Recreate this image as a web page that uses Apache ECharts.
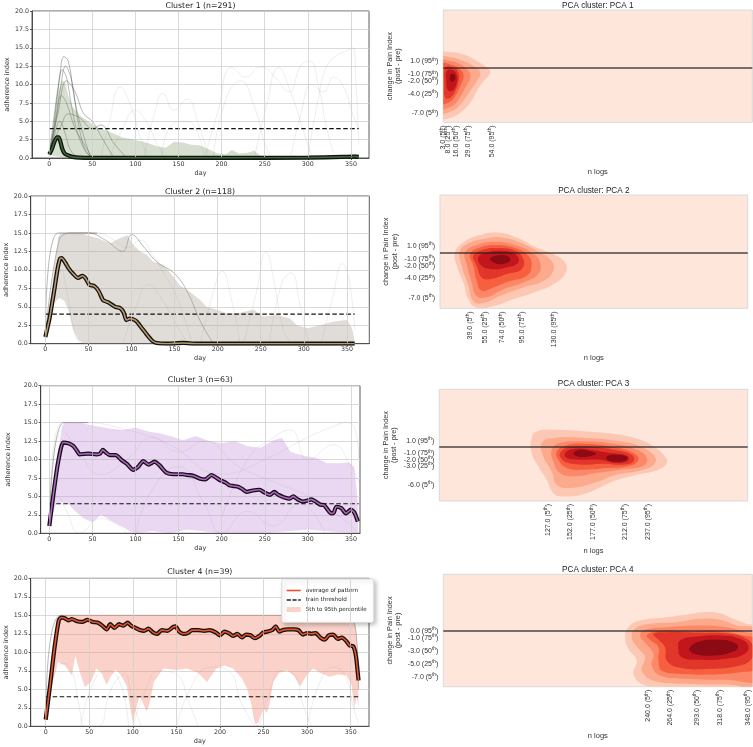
<!DOCTYPE html>
<html><head><meta charset="utf-8">
<script src="https://cdn.jsdelivr.net/npm/echarts@6/dist/echarts.min.js"></script>
<style>html,body{margin:0;padding:0;background:#fff}#c{width:753px;height:747px}</style>
</head><body><div id="c"></div>
<script>
// ---------------- DATA ----------------
const dayTicks = [0, 50, 100, 150, 200, 250, 300, 350];
const threshold = [[0, 4], [359, 4]];

const c1Mean = [[0,0.5],[3,1.2],[6,2.2],[9,2.8],[11,2.8],[13,2.2],[15,1.3],[18,0.6],[22,0.35],[27,0.15],[35,0.05],[50,0.02],[100,0.02],[200,0.02],[300,0.05],[340,0.15],[355,0.2],[359,0.15]];
const c1Upper = [[0,0.6],[5,5],[10,9],[15,10.5],[18,10.4],[22,8.5],[27,7],[35,5.8],[45,5],[55,4.2],[65,3.8],[75,3.3],[85,2.8],[95,2.6],[105,2.3],[115,2],[125,1.6],[135,1.4],[145,2.2],[155,2.1],[165,1.8],[175,1.7],[185,1.2],[195,0.6],[205,0.5],[212,1.1],[220,0.6],[230,0.7],[238,1.0],[245,0.3],[255,0.1],[300,0.05],[340,0.2],[350,0.6],[357,0.5],[359,0.1]];
const c1Lower = [[0,0.4],[20,0],[359,0]];
const c1Bundle = [
  [[0,0.5],[6,6],[12,11],[17,13.8],[22,13.2],[28,9],[35,4],[42,1],[50,0]],
  [[0,0.5],[5,4],[10,9],[15,12],[20,11],[26,7],[34,3],[45,0.5],[55,0]],
  [[0,0.5],[5,3],[9,6],[14,8.5],[20,7.5],[30,4],[40,2],[50,0]],
  [[0,0.5],[4,2],[8,4],[12,5],[18,3.5],[25,1],[35,0]],
  [[0,0.5],[10,6],[20,10.5],[30,9],[40,6],[50,5],[60,3],[75,0]],
  [[0,0.5],[8,3],[14,4.5],[22,6],[35,5.5],[50,4],[60,4.5],[75,2],[90,0]],
  [[0,0.5],[7,5],[13,9.5],[19,12.5],[25,11],[32,6.5],[40,3],[48,0]]
];
const c1Lines = [
  [[60,0],[70,5],[82,9.6],[95,7],[105,3],[115,0]],
  [[110,0],[122,6],[132,8.8],[145,6.5],[160,8],[172,5],[185,0]],
  [[180,0],[195,6],[212,12.3],[228,11],[245,12.4],[262,11],[278,9],[292,12.6],[302,13.2],[312,10],[322,4],[332,0]],
  [[300,0],[312,8],[322,12.5],[334,14],[344,14.5],[352,15],[356,10],[359,2]],
  [[238,0],[252,7],[266,12.3],[280,9],[294,4],[305,0]],
  [[130,0],[142,4.5],[158,5],[170,4],[180,0]],
  [[280,0],[292,6],[305,10],[318,9],[330,11],[342,9.5],[352,6],[359,4]],
  [[70,0],[85,4],[100,6.5],[112,5],[125,2],[135,0]],
  [[190,0],[205,8],[222,10.5],[238,7],[250,2],[258,0]]
];

const c2Mean = [[0,0.9],[5,3.5],[10,7],[14,10],[17,11.5],[19,11.6],[23,11.0],[27,10.2],[32,9.5],[38,8.9],[43,9.2],[47,8.8],[51,8.0],[57,7.8],[62,7.1],[67,5.9],[73,5.6],[81,5.0],[87,4.8],[91,4.2],[94,3.2],[98,3.4],[102,3.3],[106,3.0],[112,2.1],[118,1.2],[124,0.4],[129,0.1],[141,0],[160,0.1],[175,0],[359,0]];
const c2Upper = [[0,0.9],[5,5],[10,10],[15,14.5],[18,15],[40,15],[48,14.7],[60,14.3],[75,13.6],[85,14.2],[95,14.7],[102,13.4],[110,12.5],[118,12],[125,11.1],[137,10.7],[147,9.3],[156,7.9],[168,7],[180,5.9],[187,5],[199,4.6],[211,4.1],[226,4.2],[242,4.6],[253,3.7],[269,3.9],[284,3.4],[292,2.5],[304,2.1],[319,2.5],[335,3.0],[350,3.2],[356,2.1],[359,0.3]];
const c2Lower = [[0,0.9],[5,3],[10,5.5],[16,6.2],[22,5.8],[27,4.5],[32,2],[38,0.5],[45,0],[359,0]];
const c2Bundle = [
  [[0,0.9],[15,15],[60,15]],
  [[0,0.9],[16,14],[30,15],[50,15],[70,14],[90,12.5],[100,14.8],[115,13],[130,11],[150,9.5],[165,7],[180,3],[195,0]]
];
const c2Lines = [
  [[0,0.9],[10,8],[18,10],[25,7],[35,1],[42,0]],
  [[230,0],[245,7],[256,12.4],[266,8],[276,2],[285,0]],
  [[320,0],[333,6],[345,10.8],[352,9],[359,2]],
  [[180,0],[195,7],[205,9.8],[216,6],[226,0]],
  [[260,0],[274,8],[285,9.6],[296,5],[306,0]],
  [[20,15],[40,14.8],[60,15],[80,14],[95,13],[110,14],[125,12],[140,9],[150,7],[160,4],[170,0]],
  [[90,0],[105,5],[120,8],[135,6],[150,3],[165,0]]
];

const c3Mean = [[0,1],[5,5.5],[10,9.5],[16,12.3],[22,12.2],[28,11.8],[32,11.2],[35,10.7],[45,10.8],[55,10.7],[59,10.8],[62,11.3],[66,10.9],[70,10.6],[77,10.6],[84,9.9],[90,9.4],[97,8.6],[103,9.0],[109,9.8],[115,9.3],[122,9.7],[128,9.2],[136,8.2],[144,8.0],[155,8.0],[160,7.9],[167,7.8],[175,7.4],[181,7.3],[188,7.9],[193,7.6],[198,7.2],[204,6.9],[209,6.5],[214,6.4],[219,6.3],[224,6.0],[229,5.6],[236,5.8],[244,5.9],[250,5.5],[256,5.2],[261,5.6],[266,5.2],[272,4.9],[279,4.7],[283,5.0],[288,4.6],[294,4.3],[299,4.4],[304,4.6],[309,4.3],[314,3.9],[319,3.8],[323,3.2],[327,2.7],[330,2.8],[333,3.6],[339,3.4],[344,2.7],[350,3.2],[354,2.8],[358,1.6]];
const c3Upper = [[0,1],[5,6],[10,11],[15,14.5],[18,15],[35,15],[42,14.8],[55,14.5],[70,14.2],[85,14.0],[100,14.3],[115,13.8],[130,13.5],[145,13.0],[155,12.6],[170,13.2],[185,12.5],[200,12.2],[215,12.5],[230,11.8],[245,11.6],[260,12.6],[270,12.9],[280,11.0],[295,10.5],[310,10.2],[322,9.5],[335,9.5],[348,9.6],[354,9.0],[358,4.0]];
const c3Lower = [[0,1],[8,4],[15,4.2],[22,4],[30,3],[40,2],[50,1.5],[60,2.5],[75,1.5],[90,0.5],[100,0],[120,0.3],[140,0],[160,0.5],[200,0],[250,0],[300,0.5],[330,0.2],[358,0]];
const c3Bundle = [
  [[0,1],[17,15],[45,15]]
];
const c3Lines = [
  [[0,1],[15,15],[40,15],[90,14],[140,12],[200,8],[250,10],[300,13],[330,14.5],[345,15],[355,14],[359,10]],
  [[0,1],[10,5],[20,3],[35,0],[60,2],[90,0]],
  [[100,0],[120,6],[150,9],[180,4],[200,0],[230,3],[260,1],[290,4],[320,0]],
  [[0,1],[15,14],[30,12],[60,8],[90,10],[120,13],[150,11],[180,12.5],[220,9],[260,7],[300,5],[340,2],[359,0]],
  [[200,2],[230,10],[260,13],[280,14],[300,10],[330,12],[350,9],[359,7]]
];

const c4Mean = [[0,0.9],[5,5.5],[10,10.5],[15,14.3],[18,14.7],[22,14.6],[26,14.3],[30,14.5],[36,14.2],[42,14.1],[48,14.4],[54,14.1],[60,14.0],[65,13.6],[70,13.1],[74,13.8],[79,13.3],[84,13.8],[89,13.6],[94,14.0],[98,13.6],[103,13.3],[108,13.0],[113,12.9],[118,13.2],[123,12.7],[128,12.5],[133,13.0],[140,12.9],[146,13.4],[149,13.5],[153,12.8],[158,12.5],[163,12.6],[168,13.0],[175,13.0],[182,12.9],[188,13.0],[195,12.7],[200,12.3],[205,12.8],[210,12.6],[215,12.2],[220,12.5],[225,12.0],[230,12.4],[235,12.3],[240,11.9],[245,12.2],[250,12.7],[255,12.8],[260,13.0],[264,13.5],[268,12.8],[272,13.0],[278,13.1],[285,13.1],[290,13.0],[295,12.4],[300,12.6],[305,12.5],[310,12.6],[315,12.0],[320,11.7],[325,12.3],[330,12.4],[335,11.8],[340,12.0],[345,11.5],[349,10.9],[353,10.8],[356,9.5],[359,6.2]];
const c4Upper = [[0,1],[5,6],[10,11],[15,14.6],[18,15],[350,15],[354,14.5],[357,12],[359,3]];
const c4Lower = [[0,1],[6,5],[14,8.7],[22,8.2],[30,6.9],[34,9.5],[40,7],[45,5.3],[52,6],[58,7.8],[64,7.2],[70,5.6],[75,6.8],[80,7.6],[86,7],[93,5.4],[97,2.5],[100,0.5],[104,2.5],[108,4.2],[112,3],[116,2],[120,3.5],[124,6],[135,7.8],[150,7.6],[162,7.8],[175,7.2],[185,6],[196,7.8],[205,8.2],[215,7.8],[225,6.5],[231,5.1],[236,3],[240,0.3],[244,0.5],[247,1.5],[250,2.4],[254,1.8],[257,3],[261,6],[268,7.2],[277,7.6],[285,6.8],[292,5.4],[300,7],[307,7.8],[315,7.2],[326,6.7],[335,7],[345,6.9],[351,5.6],[354,2.4],[357,4],[359,2.5]];
const c4Bundle = [
  [[0,1],[17,15],[350,15],[359,5]]
];
const c4Lines = [
  [[0,1],[10,7],[20,8.5],[30,7.5],[38,3],[46,0],[60,0],[75,5],[90,7],[100,3],[110,0]],
  [[100,0],[115,5],[130,7.5],[150,7],[165,3],[175,0]],
  [[230,0],[240,0],[255,4],[270,7.5],[285,7],[295,3],[305,0]],
  [[300,0],[315,6],[330,8],[345,6.5],[352,3],[359,0.5]],
  [[150,0],[170,6],[190,8],[210,7.5],[225,3],[240,0]],
  [[40,0],[55,6],[70,7.5],[85,6],[95,0]]
];

// KDE contour levels (polygon vertices in data units: [n logs, change in pain index])
const kde1 = [
  {lv:0, pts:[[-3.7,2.05],[12,2.41],[26,1.95],[38.2,1.03],[48.7,0],[52.2,-0.77],[45.2,-2.05],[38.2,-3.59],[31.2,-5.39],[20.8,-6.93],[8.5,-7.8],[-3.7,-7.8]]},
  {lv:1, pts:[[-3.7,1.54],[10.3,1.64],[22.5,1.13],[34.7,0.26],[41.7,-0.77],[38.2,-2.05],[31.2,-3.59],[22.5,-5.39],[12,-6.67],[-3.7,-6.93]]},
  {lv:2, pts:[[-3.7,1.03],[10.3,1.03],[20.8,0.51],[29.5,-0.51],[31.2,-1.54],[26,-3.08],[19,-4.87],[10.3,-6.05],[-3.7,-6.16]]},
  {lv:3, pts:[[1.6,0.51],[12,0.41],[20.8,-0.26],[24.3,-1.28],[20.8,-2.82],[15.5,-4.36],[8.5,-5.39],[1.6,-5.39]]},
  {lv:4, pts:[[5.1,0],[13.8,0],[19,-0.77],[19,-2.05],[15.5,-3.59],[10.3,-4.62],[5.1,-4.62],[4,-2.56]]},
  {lv:5, pts:[[6.8,-0.51],[13.8,-0.41],[17.3,-1.28],[16.6,-2.56],[12,-3.59],[7.5,-3.33],[6.1,-2.05]]},
  {lv:6, pts:[[10.3,-1.13],[14.5,-1.03],[15.5,-1.64],[13.1,-2.15],[10.3,-1.95]]}
];
const kde2 = [
  {lv:0, pts:[[22.8,0],[31.8,1.57],[49.8,2.71],[69.6,3.12],[89.4,2.35],[111,0.8],[132.6,-0.5],[142.7,-1.8],[141.6,-3.3],[129,-4.9],[107.4,-6.2],[85.8,-7.2],[64.2,-8.3],[46.2,-8.5],[37.2,-7.2],[31.8,-4.6],[24.6,-2.0]]},
  {lv:1, pts:[[28.2,0.28],[39,1.57],[57,2.2],[73.2,2.35],[93,1.57],[114.6,0],[127.2,-1.3],[129,-2.8],[118.2,-4.4],[96.6,-5.4],[71.4,-6.7],[53.4,-7.8],[42.6,-7.5],[37.2,-5.1],[30,-2.04]]},
  {lv:2, pts:[[33.6,0],[46.2,1.16],[67.8,1.67],[87.6,1.16],[105.6,0],[114.6,-1.5],[112.8,-3.3],[96.6,-4.6],[75,-5.65],[57,-6.9],[46.2,-6.7],[40.8,-4.6],[35.4,-1.8]]},
  {lv:3, pts:[[39,-0.23],[49.8,0.8],[67.8,1.16],[87.6,0.7],[102,-0.5],[105.6,-2.04],[100.2,-3.6],[82.2,-4.4],[64.2,-5.4],[51.6,-5.9],[46.2,-4.4],[42.6,-2.04]]},
  {lv:4, pts:[[42.6,-0.5],[53.4,0.44],[69.6,0.7],[87.6,0.28],[96.6,-1.0],[94.8,-2.56],[78.6,-3.3],[60.6,-4.1],[51.6,-3.85],[46.2,-2.04]]},
  {lv:5, pts:[[48,-0.75],[57,0.02],[71.4,0.28],[87.6,-0.23],[91.2,-1.5],[78.6,-2.3],[62.4,-2.56],[51.6,-2.04]]},
  {lv:6, pts:[[60.6,-0.9],[69.6,-0.4],[80.4,-0.6],[82.2,-1.27],[73.2,-1.8],[64.2,-1.5]]}
];
const kde3 = [
  {lv:0, pts:[[109.3,1.42],[114.9,2.47],[133.2,2.74],[169.9,2.47],[206.6,1.95],[228.6,1.16],[243.3,0.11],[256,-1.47],[258,-2.52],[248.8,-3.57],[225,-4.36],[199.3,-5.4],[169.9,-7.26],[144.2,-7.78],[133.2,-7.26],[125.9,-5.15],[116.7,-3.05],[109.3,-0.95]]},
  {lv:1, pts:[[120.4,0.63],[133.2,1.42],[169.9,1.42],[206.6,0.9],[228.6,0.1],[243.3,-1.2],[245.1,-2.52],[232.3,-3.57],[202.9,-4.36],[177.2,-5.68],[151.6,-6.47],[136.9,-5.94],[131.4,-3.84],[122.2,-1.47]]},
  {lv:2, pts:[[131.4,-0.42],[140.5,0.63],[162.6,0.9],[199.3,0.53],[225,-0.42],[236,-1.73],[232.3,-2.94],[206.6,-3.57],[180.9,-4.1],[155.6,-4.6],[140.5,-4.1],[133.2,-2.26]]},
  {lv:3, pts:[[136.9,-0.68],[146,0.21],[166.2,0.53],[199.3,0],[221.3,-0.95],[226.8,-2.0],[217.6,-2.94],[191.9,-3.31],[166.2,-3.57],[147.9,-3.31],[138.7,-2.0]]},
  {lv:4, pts:[[140.5,-0.95],[149.7,-0.05],[168.1,0.11],[199.3,-0.42],[219.4,-1.21],[221.3,-2.26],[208.4,-2.78],[188.3,-2.63],[166.2,-2.78],[147.9,-2.42],[141.3,-1.73]]},
  {lv:5, pts:[[146,-0.95],[155.2,-0.31],[173.6,-0.42],[195.6,-0.95],[214,-1.37],[215.8,-2.1],[202.9,-2.52],[184.6,-2.0],[162.6,-2.0],[147.9,-1.73]]},
  {lv:6, pts:[[155.2,-0.95],[162.6,-0.42],[173.6,-0.68],[180.2,-1.05],[171.7,-1.47],[159.6,-1.47]]},
  {lv:6, pts:[[191.9,-1.47],[202.9,-1.21],[214.7,-1.58],[212.1,-2.1],[201.1,-2.31],[192.7,-2.0]]}
];
const kde4 = [
  {lv:0, pts:[[214.7,-0.92],[218.3,0.61],[231,1.63],[259.9,2.14],[281.6,2.55],[299.7,2.91],[317.8,2.75],[332.3,1.88],[346.8,1.12],[357.6,0.61],[360,-8.6],[325,-8.7],[259.9,-8.7],[234.6,-8.2],[223.7,-6.5],[227.3,-4.5],[218.3,-2.7]]},
  {lv:1, pts:[[221.9,-0.92],[225.5,0.35],[241.8,1.12],[270.8,1.38],[296.1,1.88],[317.8,1.73],[335.9,0.87],[357.6,0.1],[360,-8.06],[325,-8.16],[278,-8.06],[245.4,-7.55],[232.8,-6.02],[236.4,-3.98],[228,-2.45]]},
  {lv:2, pts:[[231,-0.66],[236.4,0.2],[259.9,0.61],[296.1,0.87],[325,0.61],[346.8,-0.16],[360,-0.66],[360,-7.3],[325,-7.45],[281.6,-7.3],[252.7,-6.79],[243.6,-5.26],[245.4,-3.47],[237.5,-1.94]]},
  {lv:3, pts:[[238.2,-0.66],[249,0],[281.6,0],[317.8,0],[343.2,-0.66],[358,-1.43],[358,-5.51],[339.5,-6.28],[306.9,-6.63],[274.4,-6.53],[254.5,-6.02],[250.9,-4.49],[250.9,-2.45],[241.8,-1.33]]},
  {lv:4, pts:[[245.4,-0.41],[259.9,-0.16],[296.1,-0.26],[328.7,-0.41],[346.8,-1.17],[354,-2.45],[352.2,-4.23],[339.5,-5.26],[306.9,-5.77],[274.4,-5.61],[259.9,-4.49],[258.1,-2.45],[249.8,-1.17]]},
  {lv:5, pts:[[274.4,-1.43],[292.5,-0.82],[321.4,-0.66],[339.5,-1.17],[348.6,-2.19],[345,-3.47],[325,-4.23],[296.1,-4.39],[276.2,-3.98],[272.6,-2.7]]},
  {lv:6, pts:[[285.2,-2.45],[296.1,-1.53],[314.2,-1.33],[332.3,-1.68],[337.7,-2.45],[330.5,-3.21],[310.6,-3.72],[292.5,-3.57],[285.2,-3.06]]}
];

// percentile tick values (value list and matching percentile)
const kdeXTicks = [[3,8,16,29,54],[39,55,74,95,130],[127,152,177,212,237],[240,264,293,318,348]];
const kdeYTicks = [[1,-1,-2,-4,-7],[1,-1,-2,-4,-7],[1,-1,-2,-3,-6],[0,-1,-3,-5,-7]];
const pctNames = [5,25,50,75,95];
const pctNamesY = [95,75,50,25,5];

const leftTitles = ['Cluster 1 (n=291)','Cluster 2 (n=118)','Cluster 3 (n=63)','Cluster 4 (n=39)'];
const rightTitles = ['PCA cluster: PCA 1','PCA cluster: PCA 2','PCA cluster: PCA 3','PCA cluster: PCA 4'];
const legendNames = ['average of pattern','train threshold','5th to 95th percentile'];

// ---------------- LAYOUT / STYLE ----------------
const LF = 'DejaVu Sans', RF = 'Liberation Sans';
const leftBox = [
  {left:32, top:11, width:337, height:147, xmin:-20, xmax:371, nameGap:20, titleTop:1.5},
  {left:30.7, top:196, width:338.6, height:147.7, xmin:-17, xmax:376, nameGap:19, titleTop:187.5},
  {left:40.7, top:385.7, width:319.3, height:147.6, xmin:-10, xmax:360.5, nameGap:28.5, titleTop:376},
  {left:30.7, top:578.3, width:338.3, height:148, xmin:-17.2, xmax:371, nameGap:19, titleTop:568.3}
];
const rightBox = [
  {left:443.3, top:10, width:309, height:112.3, xmin:3, xmax:326.5, ymin:-8.4, ymax:8.9, titleTop:1.5},
  {left:440, top:195, width:307.7, height:113.3, xmin:6.6, xmax:338.9, ymin:-8.6, ymax:8.9, titleTop:186.7},
  {left:439.3, top:389.3, width:308.4, height:111.7, xmin:7.7, xmax:347, ymin:-8.5, ymax:9.1, titleTop:380},
  {left:443.3, top:574.3, width:309, height:112.4, xmin:17, xmax:353, ymin:-8.5, ymax:8.7, titleTop:565.7}
];
// label drawing order: chosen so neighbouring labels at list ends never collide (ECharts hides those)
const labelOrder = [2, 0, 3, 1, 4];
const leftData = [
  {mean:c1Mean, upper:c1Upper, lower:c1Lower, bundle:c1Bundle, lines:c1Lines, band:'rgba(115,145,95,0.30)', inner:'#3b6a32'},
  {mean:c2Mean, upper:c2Upper, lower:c2Lower, bundle:c2Bundle, lines:c2Lines, band:'rgba(165,155,140,0.35)', inner:'#b99a6c'},
  {mean:c3Mean, upper:c3Upper, lower:c3Lower, bundle:c3Bundle, lines:c3Lines, band:'rgba(200,150,222,0.38)', inner:'#b462c6'},
  {mean:c4Mean, upper:c4Upper, lower:c4Lower, bundle:c4Bundle, lines:c4Lines, band:'rgba(240,130,105,0.36)', inner:'#e8532d'}
];
const kdes = [kde1, kde2, kde3, kde4];
const kdeBg = '#fee6da';
const kdeColors = ['#fdc8b3','#fca98c','#fb8969','#f6603f','#e2362a','#c2161c','#8c0a13'];
const gridLineStyle = {color:'#cfcfcf', width:0.8, type:'solid'};
const solidIcon = 'path://M0,0L8.75,0L8.75,1L0,1Z';
const dashIcon = 'path://M0,0L2.6,0L2.6,1L0,1Z M3.6,0L6.2,0L6.2,1L3.6,1Z M7.2,0L8.75,0L8.75,1L7.2,1Z';

// ---------------- BUILD ----------------
const grid = [], xAxis = [], yAxis = [], series = [], title = [];
function clipRect(params) {
  const c = params.coordSys;
  return {type:'rect', shape:{x:c.x, y:c.y, width:c.width, height:c.height}};
}

leftBox.forEach((b, i) => {
  const d = leftData[i];
  grid.push({left:b.left, top:b.top, width:b.width, height:b.height, show:true, borderColor:'#333', borderWidth:0.8, backgroundColor:'#fff', containLabel:false});
  xAxis.push({gridIndex:i, type:'value', min:b.xmin, max:b.xmax,
    axisLine:{show:true, onZero:false, lineStyle:{color:'#333', width:0.8}},
    axisTick:{show:true, length:2, customValues:dayTicks, lineStyle:{color:'#333', width:0.8}},
    axisLabel:{customValues:dayTicks, fontSize:6.3, fontFamily:LF, color:'#333', margin:3},
    splitLine:{show:false},
    name:'day', nameLocation:'middle', nameGap:11.5, nameTextStyle:{fontSize:6.5, fontFamily:LF, color:'#333'}});
  yAxis.push({gridIndex:i, type:'value', min:0, max:20, interval:2.5,
    axisLine:{show:true, onZero:false, lineStyle:{color:'#333', width:0.8}},
    axisTick:{show:true, length:2, lineStyle:{color:'#333', width:0.8}},
    axisLabel:{formatter:v => v.toFixed(1), fontSize:6.3, fontFamily:LF, color:'#333', margin:3},
    splitLine:{show:true, lineStyle:gridLineStyle},
    name:'adherence index', nameLocation:'middle', nameGap:b.nameGap, nameTextStyle:{fontSize:6.5, fontFamily:LF, color:'#333'}});
  title.push({text:leftTitles[i], left:b.left + b.width/2, top:b.titleTop, textAlign:'center', textVerticalAlign:'top', padding:0,
    textStyle:{fontSize:7.8, fontWeight:'normal', fontFamily:LF, color:'#222'}});
  // vertical grid lines at the day ticks
  series.push({type:'custom', name:'vgrid' + i, coordinateSystem:'cartesian2d', xAxisIndex:i, yAxisIndex:i, silent:true, z:0,
    data:[[0, 0]], renderItem:() => ({type:'group', children:[]}),
    markLine:{silent:true, symbol:'none', animation:false, label:{show:false}, lineStyle:gridLineStyle,
      data:dayTicks.map(v => ({xAxis:v}))}});
  d.lines.forEach(ln => series.push({type:'line', xAxisIndex:i, yAxisIndex:i, data:ln, symbol:'none', smooth:0.5, silent:true, z:1,
    lineStyle:{color:'rgba(120,120,120,0.16)', width:0.8}}));
  d.bundle.forEach(ln => series.push({type:'line', xAxisIndex:i, yAxisIndex:i, data:ln, symbol:'none', smooth:0.4, silent:true, z:1,
    lineStyle:{color:'rgba(50,50,50,0.38)', width:0.9}}));
  series.push({type:'custom', name: i === 3 ? legendNames[2] : 'band' + i, coordinateSystem:'cartesian2d', xAxisIndex:i, yAxisIndex:i,
    silent:true, z:2, itemStyle:{color:d.band}, data:[[d.upper[0][0], d.upper[0][1]]],
    renderItem:(params, api) => {
      const pts = d.upper.map(p => api.coord(p)).concat(d.lower.slice().reverse().map(p => api.coord(p)));
      return {type:'polygon', shape:{points:pts}, style:{fill:d.band, stroke:null}, clipPath:clipRect(params)};
    }});
  series.push({type:'line', name: i === 3 ? legendNames[1] : 'thr' + i, xAxisIndex:i, yAxisIndex:i, data:threshold, symbol:'none', silent:true, z:3,
    lineStyle:{color:'#111', width:1.1, type:[4.5, 2.5]}, itemStyle:{color:'#222'}});
  series.push({type:'line', name:'outline' + i, xAxisIndex:i, yAxisIndex:i, data:d.mean, symbol:'none', smooth:0.2, silent:true, z:4,
    lineStyle:{color:'#111', width:4.2}});
  series.push({type:'line', name: i === 3 ? legendNames[0] : 'mean' + i, xAxisIndex:i, yAxisIndex:i, data:d.mean, symbol:'none', smooth:0.2, silent:true, z:5,
    lineStyle:{color:d.inner, width:1.6}, itemStyle:{color:d.inner}});
});

function pctFormatter(vals, pcts) {
  return v => {
    const k = vals.findIndex(t => Math.abs(t - v) < 1e-6);
    if (k < 0) return '';
    return '{a|' + vals[k].toFixed(1) + ' (' + pcts[k] + '}{b|th}{a|)}';
  };
}
const richLab = {
  a:{fontSize:7, fontFamily:RF, color:'#333', lineHeight:9},
  b:{fontSize:4.8, fontFamily:RF, color:'#333', lineHeight:5, verticalAlign:'top'}
};

rightBox.forEach((b, j) => {
  const gi = 4 + j;
  const kde = kdes[j];
  const xt = labelOrder.map(k => kdeXTicks[j][k]);
  const yt = labelOrder.map(k => kdeYTicks[j][k]);
  grid.push({left:b.left, top:b.top, width:b.width, height:b.height, show:true, backgroundColor:kdeBg, borderColor:'#d9d9d9', borderWidth:1});
  xAxis.push({gridIndex:gi, type:'value', min:b.xmin, max:b.xmax,
    axisLine:{show:false}, axisTick:{show:false}, splitLine:{show:false},
    axisLabel:{customValues:xt, rotate:90, margin:3, showMinLabel:true, showMaxLabel:true, hideOverlap:false,
      formatter:pctFormatter(kdeXTicks[j], pctNames), rich:richLab},
    name:'n logs', nameLocation:'middle', nameGap:45.5, nameTextStyle:{fontSize:7.5, fontFamily:RF, color:'#333'}});
  yAxis.push({gridIndex:gi, type:'value', min:b.ymin, max:b.ymax,
    axisLine:{show:false}, axisTick:{show:false}, splitLine:{show:false},
    axisLabel:{customValues:yt, margin:5, showMinLabel:true, showMaxLabel:true, hideOverlap:false,
      formatter:pctFormatter(kdeYTicks[j], pctNamesY), rich:richLab},
    name:'change in Pain Index\n(post - pre)', nameLocation:'middle', nameGap:41, nameTextStyle:{fontSize:7.3, fontFamily:RF, color:'#333', lineHeight:8.5}});
  title.push({text:rightTitles[j], left:b.left + b.width/2, top:b.titleTop, textAlign:'center', textVerticalAlign:'top', padding:0,
    textStyle:{fontSize:8.2, fontWeight:'normal', fontFamily:RF, color:'#222'}});
  series.push({type:'custom', name:'kde' + j, coordinateSystem:'cartesian2d', xAxisIndex:gi, yAxisIndex:gi, silent:true, z:2,
    data:kde.map(l => [l.pts[0][0], l.pts[0][1]]),
    renderItem:(params, api) => {
      const l = kde[params.dataIndex];
      return {type:'polygon', shape:{points:l.pts.map(p => api.coord(p)), smooth:0.45},
        style:{fill:kdeColors[l.lv], stroke:null}, clipPath:clipRect(params)};
    },
    markLine:{silent:true, symbol:'none', animation:false, label:{show:false},
      lineStyle:{color:'rgba(30,30,30,0.8)', width:1.6, type:'solid'}, data:[{yAxis:0}]}
  });
});

const option = {
  animation:false,
  backgroundColor:'#fff',
  title, grid, xAxis, yAxis, series,
  legend:{show:true, selectedMode:false, orient:'vertical', left:281.7, top:579,
    data:[{name:legendNames[0], icon:solidIcon},{name:legendNames[1], icon:dashIcon},{name:legendNames[2], icon:'rect'}],
    itemWidth:14, itemHeight:5, itemGap:3.5, padding:[8.5,7,10,5],
    backgroundColor:'#fff', borderColor:'#d6d6d6', borderWidth:0.8, borderRadius:2,
    shadowBlur:4, shadowColor:'rgba(0,0,0,0.25)', shadowOffsetX:2, shadowOffsetY:2,
    textStyle:{fontSize:5.6, fontFamily:LF, color:'#222'}}
};
const chart = echarts.init(document.getElementById('c'));
chart.setOption(option);
</script></body></html>
